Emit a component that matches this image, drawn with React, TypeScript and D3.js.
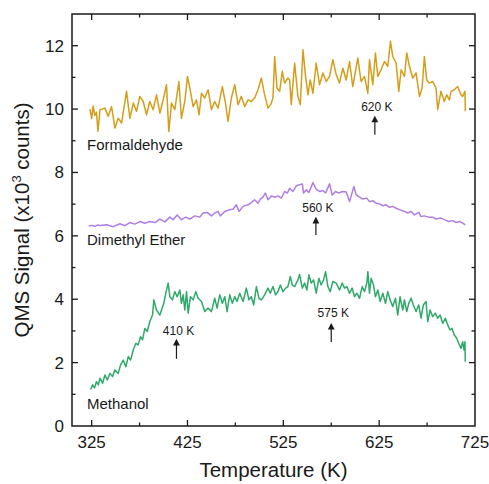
import { useRef, useEffect } from 'react';
import * as d3 from 'd3';

// [temperature (K), QMS signal (x10^3 counts)]
const formaldehyde: [number, number][] = [
  [323.3, 10.0], [325.0, 9.7], [326.6, 10.1], [328.3, 9.8], [330.0, 9.9], [331.6, 9.3],
  [333.7, 9.98], [338.9, 10.03], [342.3, 9.77], [345.8, 10.08], [349.3, 9.4], [352.7, 9.71],
  [356.2, 9.56], [361.4, 10.56], [364.9, 9.71], [368.4, 10.19], [371.8, 9.93], [375.3, 10.4],
  [378.8, 10.24], [382.3, 9.82], [385.7, 10.24], [389.2, 9.98], [392.7, 10.45], [396.2, 9.87],
  [399.6, 10.29], [403.1, 10.77], [405.5, 9.29], [408.3, 10.19], [411.8, 9.98], [416.0, 10.87],
  [418.7, 9.71], [422.2, 10.24], [425.0, 11.03], [428.1, 10.56], [430.9, 10.08], [434.4, 10.29],
  [437.1, 9.82], [439.6, 10.5], [443.0, 10.35], [446.5, 10.61], [450.0, 9.98], [453.4, 10.24],
  [456.9, 10.03], [461.4, 10.71], [464.9, 10.14], [467.3, 9.61], [470.8, 10.35], [474.3, 10.77],
  [477.8, 10.14], [481.2, 10.4], [484.7, 10.08], [488.2, 10.29], [491.6, 10.24], [495.1, 10.35],
  [498.6, 10.61], [502.1, 10.98], [505.5, 10.45], [509.0, 10.03], [511.8, 10.14], [514.2, 10.35],
  [516.0, 11.66], [518.4, 10.66], [521.2, 10.56], [523.9, 11.19], [526.4, 10.82], [529.8, 10.98],
  [531.6, 10.92], [533.3, 10.14], [536.8, 11.45], [540.2, 10.4], [542.7, 10.14], [545.5, 11.87],
  [548.2, 11.03], [550.7, 10.45], [553.1, 10.92], [555.9, 10.5], [559.3, 11.45], [562.8, 10.77],
  [566.3, 11.14], [569.8, 10.87], [573.2, 11.03], [576.7, 11.56], [580.2, 11.08], [583.6, 10.82],
  [587.1, 11.29], [590.6, 10.92], [594.1, 11.5], [597.5, 10.71], [602.7, 11.61], [606.2, 10.87],
  [609.7, 11.03], [613.2, 10.5], [614.9, 11.56], [618.4, 10.77], [621.1, 11.77], [623.6, 11.03],
  [627.0, 11.24], [630.5, 11.5], [634.0, 11.35], [636.8, 12.14], [639.2, 11.66], [642.7, 11.45],
  [645.5, 10.56], [647.9, 11.24], [651.4, 11.03], [653.8, 11.77], [656.6, 11.35], [660.0, 10.98],
  [663.5, 11.14], [667.0, 10.4], [669.8, 10.66], [672.2, 11.66], [674.6, 10.92], [677.4, 10.82],
  [680.9, 10.87], [684.3, 10.66], [686.1, 9.98], [689.5, 10.56], [693.0, 10.24], [695.5, 10.45],
  [698.2, 10.29], [700.0, 10.56], [703.4, 10.61], [706.9, 10.71], [710.4, 10.45], [712.1, 10.4],
  [714.5, 10.56], [714.9, 9.93],
];

const dimethylEther: [number, number][] = [
  [322.0, 6.31], [325.0, 6.33], [328.5, 6.3], [331.0, 6.34],
  [333.7, 6.33], [340.6, 6.35], [347.5, 6.29], [354.5, 6.38], [359.7, 6.32], [364.9, 6.42],
  [370.1, 6.37], [375.3, 6.45], [380.5, 6.4], [385.7, 6.45], [391.0, 6.42], [396.2, 6.53],
  [401.4, 6.44], [406.6, 6.59], [410.0, 6.51], [414.2, 6.66], [418.7, 6.51], [423.2, 6.59],
  [427.4, 6.53], [432.6, 6.63], [437.8, 6.59], [441.3, 6.72], [445.5, 6.74], [450.0, 6.63],
  [453.4, 6.72], [456.9, 6.77], [459.3, 6.63], [463.9, 6.77], [468.4, 6.82], [472.5, 6.84],
  [476.0, 6.98], [478.8, 6.77], [483.0, 6.93], [488.2, 6.98], [491.6, 7.05], [495.1, 7.14],
  [498.6, 7.03], [501.0, 7.16], [503.8, 7.22], [506.2, 7.35], [509.0, 7.14], [512.5, 7.26],
  [516.0, 7.22], [519.4, 7.26], [522.9, 7.19], [526.4, 7.4], [529.1, 7.35], [531.6, 7.5],
  [535.0, 7.4], [538.5, 7.58], [542.0, 7.61], [544.8, 7.64], [546.1, 7.35], [548.9, 7.45],
  [551.7, 7.37], [555.9, 7.68], [559.3, 7.47], [562.8, 7.4], [566.3, 7.43], [569.1, 7.35],
  [573.2, 7.64], [576.0, 7.29], [579.5, 7.4], [582.9, 7.35], [586.4, 7.4], [590.6, 7.38],
  [594.1, 7.08], [598.6, 7.56], [601.0, 7.29], [604.5, 7.22], [607.9, 7.16], [612.1, 7.19],
  [614.9, 7.08], [618.4, 7.11], [621.8, 7.03], [625.3, 7.01], [628.8, 6.95], [632.3, 6.98],
  [635.7, 6.9], [639.2, 6.93], [642.7, 6.87], [646.8, 6.82], [651.4, 6.77], [654.8, 6.72],
  [658.3, 6.77], [661.8, 6.66], [666.3, 6.74], [668.7, 6.61], [672.2, 6.63], [676.7, 6.59],
  [680.9, 6.59], [684.3, 6.53], [689.5, 6.56], [693.0, 6.51], [697.5, 6.45], [701.7, 6.48],
  [705.2, 6.42], [709.3, 6.45], [712.1, 6.4], [714.9, 6.35],
];

const methanol: [number, number][] = [
  [324.0, 1.15], [326.0, 1.3], [328.0, 1.2], [330.0, 1.4], [332.0, 1.3],
  [333.7, 1.51], [336.4, 1.35], [338.9, 1.61], [341.3, 1.45], [344.1, 1.66], [346.8, 1.56],
  [349.3, 1.77], [352.7, 1.66], [355.2, 1.93], [358.0, 2.08], [360.7, 1.87], [363.2, 2.19],
  [365.6, 2.08], [368.4, 2.4], [371.2, 2.61], [373.6, 2.56], [376.0, 2.82], [378.1, 2.72],
  [380.5, 3.08], [383.0, 2.98], [385.7, 3.29], [388.5, 3.5], [389.9, 3.98], [392.7, 3.66],
  [396.2, 3.5], [400.3, 3.87], [402.4, 4.19], [404.8, 4.51], [406.6, 4.08], [409.3, 3.98],
  [411.8, 4.24], [414.2, 4.08], [417.0, 4.29], [418.7, 3.87], [420.5, 4.14], [422.2, 3.66],
  [424.0, 4.24], [425.7, 3.56], [428.1, 4.08], [430.9, 3.98], [433.7, 4.24], [436.1, 4.03],
  [439.6, 3.93], [443.0, 3.61], [446.5, 3.72], [450.0, 3.61], [453.4, 4.03], [455.9, 3.72],
  [458.7, 4.14], [461.4, 3.87], [463.9, 4.08], [466.3, 3.61], [469.1, 4.14], [471.8, 3.87],
  [474.3, 4.08], [476.7, 3.93], [479.5, 4.19], [483.0, 3.93], [486.4, 4.35], [489.2, 3.98],
  [491.6, 4.08], [494.1, 3.82], [496.9, 4.4], [499.6, 4.03], [502.1, 3.98], [505.5, 4.14],
  [509.0, 4.35], [511.4, 4.19], [514.2, 4.4], [517.0, 4.14], [519.4, 4.24], [521.9, 4.45],
  [524.6, 4.24], [527.4, 4.35], [529.8, 4.4], [532.3, 4.72], [534.3, 4.45], [536.8, 4.4],
  [540.2, 4.61], [542.0, 4.78], [544.8, 4.35], [547.2, 4.51], [549.6, 4.29], [551.7, 4.77],
  [554.1, 4.51], [556.6, 4.61], [559.3, 4.19], [562.1, 4.66], [564.5, 4.45], [567.0, 4.61],
  [569.1, 4.87], [571.5, 4.4], [573.9, 4.24], [576.7, 4.56], [580.2, 4.51], [583.6, 4.29],
  [586.4, 4.51], [588.9, 4.35], [591.3, 4.4], [594.1, 4.19], [596.8, 4.35], [599.3, 4.08],
  [601.7, 4.19], [604.5, 4.03], [607.3, 4.4], [609.7, 4.24], [612.1, 4.51], [613.2, 4.87],
  [614.9, 4.19], [616.6, 4.66], [619.1, 4.45], [621.1, 4.08], [623.6, 4.29], [626.0, 3.93],
  [628.8, 4.19], [631.6, 3.87], [634.0, 4.24], [636.4, 3.98], [639.2, 3.77], [642.0, 4.03],
  [644.4, 3.5], [646.8, 4.08], [649.6, 3.66], [651.4, 3.98], [653.8, 3.61], [655.9, 3.87],
  [658.3, 4.03], [660.7, 3.82], [663.5, 3.61], [666.3, 3.82], [668.7, 3.4], [671.1, 3.82],
  [673.9, 3.93], [675.7, 3.29], [678.1, 3.66], [680.9, 3.45], [683.6, 3.56], [686.1, 3.4],
  [688.5, 3.5], [691.3, 3.24], [694.1, 3.4], [696.5, 3.19], [698.9, 3.03], [701.0, 3.08],
  [703.4, 2.87], [705.9, 2.77], [707.9, 2.61], [710.4, 2.45], [712.1, 2.66], [713.5, 2.4],
  [714.5, 2.66], [714.9, 2.03],
];

const xTicks = [325, 425, 525, 625, 725];
const xMinorTicks = [375, 475, 575, 675];
const yTicks = [0, 2, 4, 6, 8, 10, 12];
const yMinorTicks = [1, 3, 5, 7, 9, 11];

// label, temperature, arrow tail, arrow head, text baseline (signal units)
const annotations: [string, number, number, number, number][] = [
  ['620 K', 620.5, 9.19, 9.79, 9.95],
  ['560 K', 559, 6.03, 6.6, 6.76],
  ['410 K', 413.5, 2.12, 2.75, 2.87],
  ['575 K', 575, 2.65, 3.25, 3.43],
];

const seriesLabels: [string, number][] = [
  ['Formaldehyde', 8.7],
  ['Dimethyl Ether', 5.7],
  ['Methanol', 0.54],
];

const W = 489;
const H = 484;
const margin = { top: 14, right: 14, bottom: 58, left: 72 };
const font = 'Arial, "Liberation Sans", sans-serif';
const ink = '#1a1a1a';

function App() {
  const ref = useRef<SVGSVGElement | null>(null);

  useEffect(() => {
    const svg = d3.select(ref.current);
    svg.selectAll('*').remove();

    const x = d3.scaleLinear().domain([304.5, 725]).range([margin.left, W - margin.right]);
    const y = d3.scaleLinear().domain([0, 13]).range([H - margin.bottom, margin.top]);
    const [x0, x1] = x.range();
    const [y0, y1] = y.range();

    const line = d3.line<[number, number]>()
      .x(d => x(d[0]))
      .y(d => y(d[1]));

    const series: [[number, number][], string][] = [
      [formaldehyde, '#d49e1a'],
      [dimethylEther, '#b07de3'],
      [methanol, '#2ea96a'],
    ];
    series.forEach(([data, color]) => {
      svg.append('path')
        .attr('d', line(data))
        .attr('fill', 'none')
        .attr('stroke', color)
        .attr('stroke-width', 1.5)
        .attr('stroke-linejoin', 'round');
    });

    // frame
    svg.append('rect')
      .attr('x', x0).attr('y', y1)
      .attr('width', x1 - x0).attr('height', y0 - y1)
      .attr('fill', 'none')
      .attr('stroke', ink)
      .attr('stroke-width', 1.5);

    // ticks, inward on every side
    const ticks = svg.append('g').attr('stroke', ink).attr('stroke-width', 1.3);
    const vTick = (t: number, len: number) => {
      ticks.append('line').attr('x1', x(t)).attr('x2', x(t)).attr('y1', y0).attr('y2', y0 - len);
      ticks.append('line').attr('x1', x(t)).attr('x2', x(t)).attr('y1', y1).attr('y2', y1 + len);
    };
    const hTick = (t: number, len: number) => {
      ticks.append('line').attr('y1', y(t)).attr('y2', y(t)).attr('x1', x0).attr('x2', x0 + len);
      ticks.append('line').attr('y1', y(t)).attr('y2', y(t)).attr('x1', x1).attr('x2', x1 - len);
    };
    xTicks.filter(t => t < 725).forEach(t => vTick(t, 6));
    xMinorTicks.forEach(t => vTick(t, 3.5));
    yTicks.filter(t => t > 0).forEach(t => hTick(t, 6));
    yMinorTicks.forEach(t => hTick(t, 3.5));

    // tick labels
    svg.append('g')
      .selectAll('text')
      .data(xTicks)
      .join('text')
      .attr('x', d => x(d))
      .attr('y', y0 + 22)
      .attr('text-anchor', 'middle')
      .attr('font-family', font)
      .attr('font-size', 17)
      .attr('fill', ink)
      .text(d => d);

    svg.append('g')
      .selectAll('text')
      .data(yTicks)
      .join('text')
      .attr('x', x0 - 8)
      .attr('y', d => y(d) + 6)
      .attr('text-anchor', 'end')
      .attr('font-family', font)
      .attr('font-size', 17)
      .attr('fill', ink)
      .text(d => d);

    // axis titles
    svg.append('text')
      .attr('x', (x0 + x1) / 2)
      .attr('y', 477)
      .attr('text-anchor', 'middle')
      .attr('font-family', font)
      .attr('font-size', 20.5)
      .attr('fill', ink)
      .text('Temperature (K)');

    const yt = svg.append('text')
      .attr('transform', `translate(29, ${(y0 + y1) / 2}) rotate(-90)`)
      .attr('text-anchor', 'middle')
      .attr('font-family', font)
      .attr('font-size', 20.5)
      .attr('fill', ink);
    yt.append('tspan').text('QMS Signal (x10');
    yt.append('tspan').attr('font-size', 13).attr('dy', -8).text('3');
    yt.append('tspan').attr('dy', 8).text(' counts)');

    // series labels
    svg.append('g')
      .selectAll('text')
      .data(seriesLabels)
      .join('text')
      .attr('x', x0 + 15)
      .attr('y', d => y(d[1]))
      .attr('font-family', font)
      .attr('font-size', 15)
      .attr('fill', ink)
      .text(d => d[0]);

    // annotations with arrows
    annotations.forEach(([label, t, tail, head, ty]) => {
      const ax = x(t);
      svg.append('line')
        .attr('x1', ax).attr('x2', ax)
        .attr('y1', y(tail)).attr('y2', y(head) + 5)
        .attr('stroke', ink)
        .attr('stroke-width', 1.2);
      svg.append('path')
        .attr('d', `M${ax},${y(head)} L${ax - 3.4},${y(head) + 6.6} L${ax + 3.4},${y(head) + 6.6} Z`)
        .attr('fill', ink);
      svg.append('text')
        .attr('x', ax + 2)
        .attr('y', y(ty))
        .attr('text-anchor', 'middle')
        .attr('font-family', font)
        .attr('font-size', 12)
        .attr('fill', ink)
        .text(label);
    });
  }, []);

  return (
    <svg
      ref={ref}
      width={W}
      height={H}
      style={{ position: 'absolute', left: 0, top: 0, background: '#fff' }}
    />
  );
}

export default App;
